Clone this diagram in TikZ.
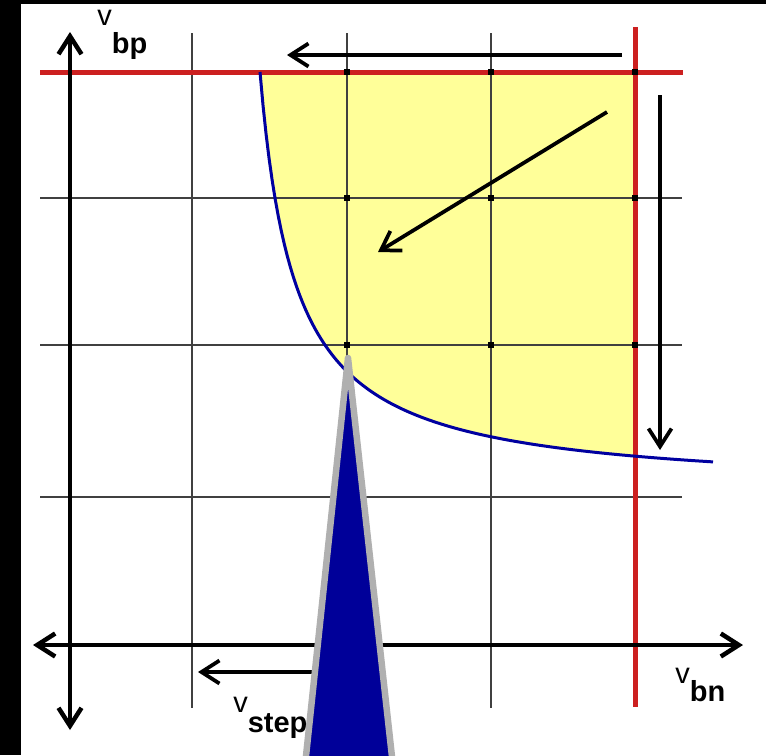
\documentclass[tikz,border=0pt]{standalone}
\usepackage{fontspec}
\setmainfont{Liberation Sans}
\usetikzlibrary{arrows.meta}
\definecolor{vb-red}{HTML}{CC2020}
\definecolor{vb-blue}{HTML}{0000A0}
\definecolor{vb-yellow}{HTML}{FFFF99}
\definecolor{vb-grid}{HTML}{404040}
\definecolor{vb-navy}{HTML}{000099}
\definecolor{vb-gray}{HTML}{B0B0B0}
\newcommand{\vlabel}[2][10.8pt]{v\raisebox{-#1}{\bfseries #2}}

\begin{document}
\begin{tikzpicture}[
    x=0.02cm, y=-0.02cm,
    >={Straight Barb[length=0.36cm, width=0.46cm]},
    % Styles for grid, limits and arrows
    gridline/.style={vb-grid, line width=0.03cm},
    limitline/.style={vb-red, line width=0.1cm},
    axisline/.style={<->, line width=0.09cm},
    movearrow/.style={->, line width=0.075cm},
    dotmark/.style={fill=black, minimum size=0.12cm, inner sep=0pt},
    labelstyle/.style={font=\fontsize{16.5}{18}\selectfont, inner sep=0pt, anchor=base west}
  ]
  \useasboundingbox (0,0) rectangle (766,755);
  \fill[black] (0,0) rectangle (766,755);
  \fill[white] (21,4) rectangle (766,755);

  % =========================================================================
  % ALLOWED REGION AND GRID
  % =========================================================================
  \fill[vb-yellow] plot[domain=260:635, samples=120] (\x,{492-14700/(\x-225)}) -- (635,72) -- cycle;
  \foreach \y in {198,345,497} {
    \draw[gridline] (40,\y) -- (682,\y);
  }
  \foreach \x in {192,347,491} {
    \draw[gridline] (\x,33) -- (\x,708);
  }

  % Limit lines
  \draw[limitline] (40,72) -- (683,72);
  \draw[limitline] (635,27) -- (635,707);

  % Boundary curve
  \draw[vb-blue, line width=0.06cm] plot[domain=260:713, samples=150] (\x,{492-14700/(\x-225)});

  % Grid points
  \foreach \x in {347,491,635} {
    \foreach \y in {72,198,345} {
      \node[dotmark] (p-\x-\y) at (\x,\y) {};
    }
  }

  % =========================================================================
  % AXES AND MOVES
  % =========================================================================
  \coordinate (ytop) at (70,32);
  \coordinate (ybot) at (70,730);
  \coordinate (xleft) at (33,645);
  \coordinate (xright) at (743,645);
  \draw[axisline] (ybot) -- (ytop);
  \draw[axisline] (xleft) -- (xright);

  \coordinate (topA) at (622,55);
  \coordinate (topB) at (287,55);
  \coordinate (diagA) at (607,112);
  \coordinate (diagB) at (378,252);
  \coordinate (downA) at (660,95);
  \coordinate (downB) at (660,450);
  \coordinate (stepA) at (335,672);
  \coordinate (stepB) at (198,672);
  \draw[movearrow] (topA) -- (topB);
  \draw[movearrow] (diagA) -- (diagB);
  \draw[movearrow] (downA) -- (downB);
  \draw[movearrow] (stepA) -- (stepB);

  % Labels
  \node[labelstyle] (vbp) at (97,25) {\vlabel[16pt]{bp}};
  \node[labelstyle] (vbn) at (675,683) {\vlabel{bn}};
  \node[labelstyle] (vstep) at (233,712) {\vlabel[11.4pt]{step}};

  % =========================================================================
  % POINTER
  % =========================================================================
  \begin{scope}
    \clip (0,0) rectangle (766,755);
    \filldraw[fill=vb-navy, draw=vb-gray, line width=0.13cm, line join=round]
      (348,358) -- (304,775) -- (394,775) -- cycle;
  \end{scope}

\end{tikzpicture}
\end{document}
